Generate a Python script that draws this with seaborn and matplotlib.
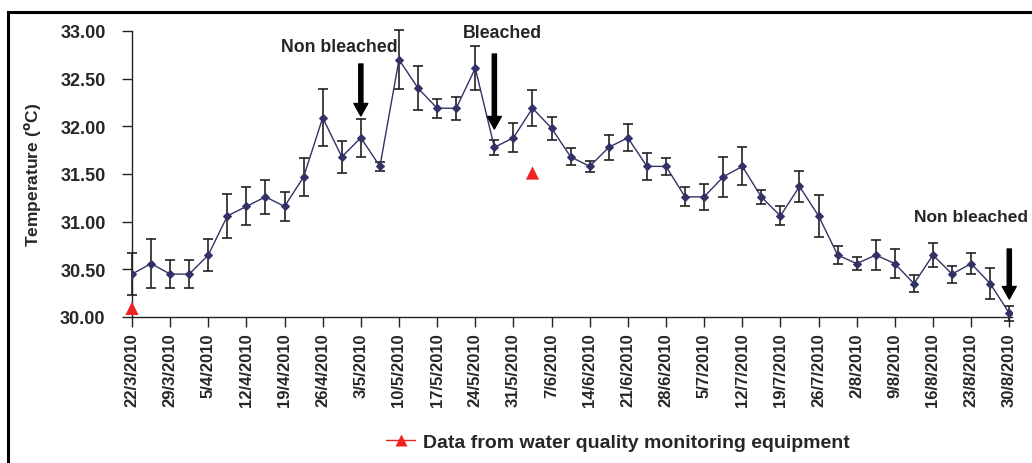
import numpy as np
import pandas as pd
import matplotlib
matplotlib.use("Agg")
import matplotlib.pyplot as plt
from matplotlib.lines import Line2D
from matplotlib.patches import Rectangle
import seaborn as sns

# ---------------- data ----------------
day_step = 3.5  # two readings per week
temperature = [30.45, 30.56, 30.45, 30.45, 30.65, 31.06, 31.16, 31.26, 31.16, 31.47,
               32.09, 31.68, 31.88, 31.58, 32.70, 32.40, 32.19, 32.19, 32.61, 31.78,
               31.88, 32.19, 31.98, 31.68, 31.58, 31.78, 31.88, 31.58, 31.58, 31.26,
               31.26, 31.47, 31.58, 31.26, 31.06, 31.37, 31.06, 30.65, 30.56, 30.65,
               30.56, 30.35, 30.65, 30.45, 30.56, 30.35, 30.04]
temp_err = [0.22, 0.26, 0.15, 0.15, 0.17, 0.23, 0.20, 0.18, 0.15, 0.20,
            0.30, 0.17, 0.20, 0.05, 0.31, 0.23, 0.10, 0.12, 0.23, 0.08,
            0.15, 0.19, 0.12, 0.09, 0.06, 0.13, 0.14, 0.14, 0.09, 0.10,
            0.14, 0.21, 0.20, 0.07, 0.10, 0.16, 0.22, 0.09, 0.07, 0.16,
            0.15, 0.09, 0.13, 0.09, 0.11, 0.16, 0.08]
equip_index = [0, 21]
equip_temp = [30.09, 31.51]
tick_labels = ["22/3/2010", "29/3/2010", "5/4/2010", "12/4/2010", "19/4/2010",
               "26/4/2010", "3/5/2010", "10/5/2010", "17/5/2010", "24/5/2010",
               "31/5/2010", "7/6/2010", "14/6/2010", "21/6/2010", "28/6/2010",
               "5/7/2010", "12/7/2010", "19/7/2010", "26/7/2010", "2/8/2010",
               "9/8/2010", "16/8/2010", "23/8/2010", "30/8/2010"]
annotations = [("Non bleached", 12), ("Bleached", 19), ("Non bleached", 46)]

days = np.arange(len(temperature)) * day_step
df = pd.DataFrame({"day": days, "temp": temperature, "err": temp_err})
eq = pd.DataFrame({"day": [days[i] for i in equip_index], "temp": equip_temp})
tick_pos = np.arange(len(tick_labels)) * 7.0

# ---------------- style ----------------
sns.set_theme(style="ticks")
plt.rcParams["font.family"] = ["Liberation Sans", "DejaVu Sans"]
plt.rcParams["font.weight"] = "bold"

fig = plt.figure(figsize=(10.32, 4.64), dpi=100)
ax = fig.add_axes([132 / 1032, 1 - 318 / 464, (1012 - 132) / 1032, (318 - 32) / 464])

line_color = "#323266"
eb = ax.errorbar(df["day"], df["temp"], yerr=df["err"], fmt="none", ecolor="#222222",
                 elinewidth=1.2, capsize=3.5, capthick=1.2, zorder=2)
for art in eb.lines[1] + eb.lines[2]:
    art.set_clip_on(False)
sns.lineplot(data=df, x="day", y="temp", ax=ax, color=line_color, lw=1.0,
             marker="D", markersize=4.5, markeredgecolor=line_color, zorder=3)
sns.scatterplot(data=eq, x="day", y="temp", ax=ax, color="#ee2222", marker="^",
                s=90, edgecolor="none", zorder=4, clip_on=False)

ax.set_xlim(days[0], days[-1] + 0.5)
ax.set_ylim(30.0, 33.0)
yt = np.arange(30.0, 33.01, 0.5)
ax.set_yticks(yt)
ax.set_yticklabels([f"{v:.2f}" for v in yt], fontsize=13, fontweight="bold")
ax.set_xticks(tick_pos)
ax.set_xticklabels(tick_labels, rotation=90, fontsize=12, fontweight="bold")
ax.tick_params(axis="both", direction="out", length=7, width=1, color="#222222")
ax.tick_params(axis="x", pad=4)
ax.tick_params(axis="y", pad=12)
ax.set_xlabel("")
ax.set_ylabel(r"Temperature ($\mathbf{^{o}}$C)", fontsize=12.5, fontweight="bold", labelpad=12)
for s in ["top", "right"]:
    ax.spines[s].set_visible(False)
for s in ["left", "bottom"]:
    ax.spines[s].set_color("#222222")
    ax.spines[s].set_linewidth(1.0)

# annotations: text and arrows
px_per_day = (1012 - 132) / (days[-1] + 0.5)
def d_of(px):
    return (px - 132) / px_per_day
def t_of(py):
    return 30.0 + (318 - py) / (286 / 3.0)

text_specs = [(339, 47, "center", 12.8), (502, 34, "center", 12.8), (914, 218, "left", 12.5)]
arrow_specs = [(65, 117), (55, 130), (250, 300)]
for (label, idx), (tx, ty, ha, fs), (y0, y1) in zip(annotations, text_specs, arrow_specs):
    ax.text(d_of(tx), t_of(ty), label, ha=ha, va="center", fontsize=fs,
            fontweight="bold", clip_on=False)
    ax.annotate("", xy=(days[idx], t_of(y1)), xytext=(days[idx], t_of(y0)),
                arrowprops=dict(facecolor="black", edgecolor="black", width=3,
                                headwidth=10, headlength=9, shrink=0),
                annotation_clip=False)

# legend
handle = Line2D([0], [0], color="#ee2222", lw=1.0, marker="^", markersize=8,
                markeredgecolor="none")
fig.legend([handle], ["Data from water quality monitoring equipment"],
           loc="center", bbox_to_anchor=(618 / 1032, 1 - 443 / 464), frameon=False,
           prop={"size": 14, "weight": "bold"}, handlelength=1.5, handletextpad=0.4)

# outer frame
fig.patches.append(Rectangle((8 / 1032, -0.1), 1.2, 1.1 - 13 / 464, transform=fig.transFigure,
                             fill=False, edgecolor="black", lw=2.2, zorder=10))

fig.savefig("out.png", dpi=100)
